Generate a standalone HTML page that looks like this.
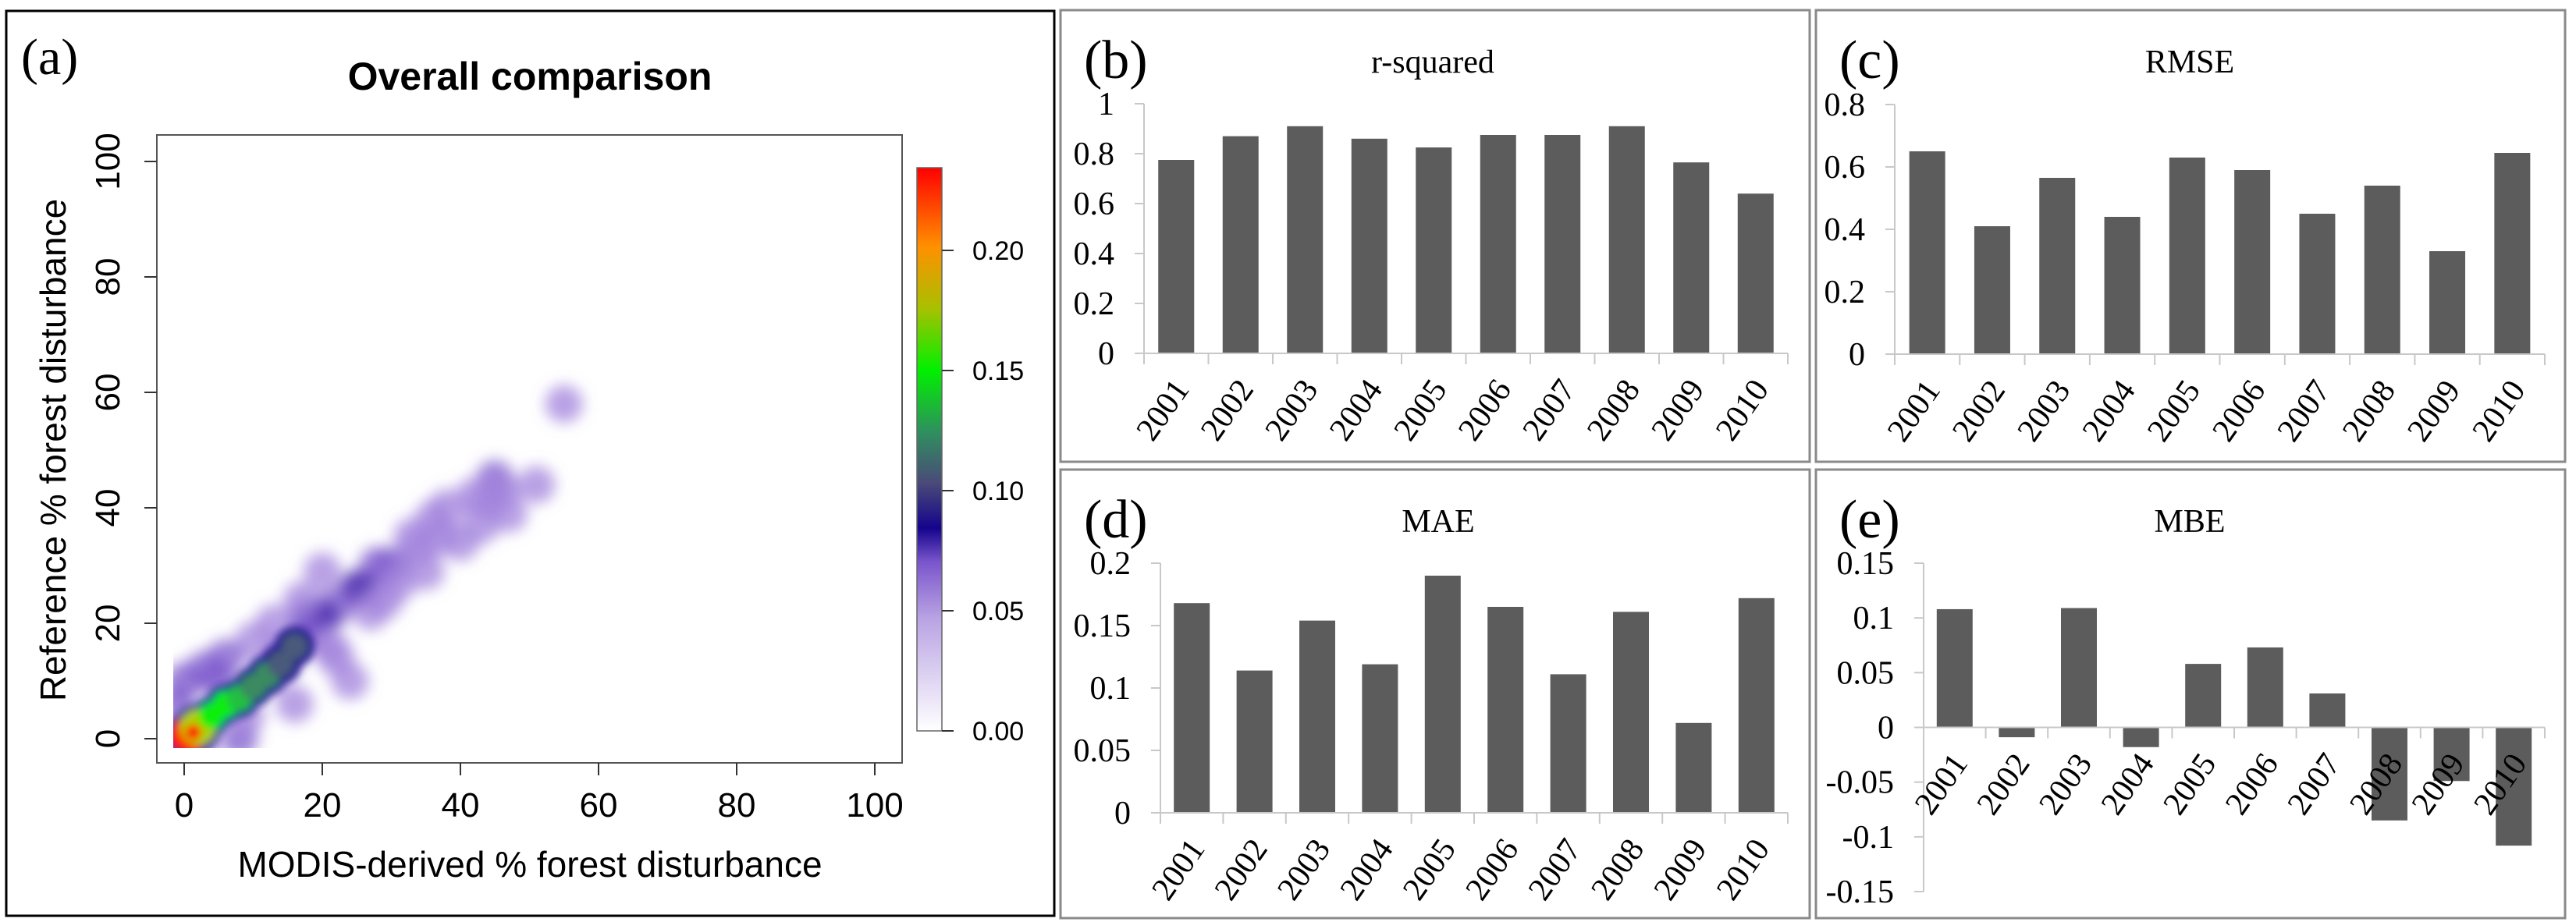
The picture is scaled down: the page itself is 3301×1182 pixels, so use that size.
<!DOCTYPE html>
<html><head><meta charset="utf-8"><style>
html,body{margin:0;padding:0;background:#fff;width:3301px;height:1182px;overflow:hidden}
svg{display:block}
.sans{font-family:"Liberation Sans",Arial,sans-serif}
.serif{font-family:"Liberation Serif","Times New Roman",serif}
</style></head><body>
<svg id="fig" width="3301" height="1182" viewBox="0 0 3301 1182" xmlns="http://www.w3.org/2000/svg">
<defs>
<filter id="blur" x="-20%" y="-20%" width="140%" height="140%"><feGaussianBlur stdDeviation="9"/></filter>
<filter id="blur2" x="-20%" y="-20%" width="140%" height="140%"><feGaussianBlur stdDeviation="5"/></filter>
<linearGradient id="cbar" x1="0" y1="1" x2="0" y2="0">
<stop offset="0" stop-color="#ffffff"/>
<stop offset="0.2" stop-color="#b9a3e3"/>
<stop offset="0.3" stop-color="#7a55cc"/>
<stop offset="0.36" stop-color="#14048c"/>
<stop offset="0.44" stop-color="#4a4a78"/>
<stop offset="0.53" stop-color="#2f8f5f"/>
<stop offset="0.64" stop-color="#00f000"/>
<stop offset="0.75" stop-color="#a8c000"/>
<stop offset="0.86" stop-color="#ff9000"/>
<stop offset="1" stop-color="#ff0000"/>
</linearGradient>
<clipPath id="dclip"><rect x="222" y="180" width="940" height="779"/></clipPath>
</defs>
<g id="panelA"></g>
<g id="bars"></g>
</svg>
<script>
// ---------- Panel (a) data ----------
const xTicksA = [0,20,40,60,80,100];
const yTicksA = [0,20,40,60,80,100];
const cbTicks = [0.00,0.05,0.10,0.15,0.20];
// density blobs: x (MODIS %), y (reference %), level (0 light .. 3 dark)
const blobX = [55,45,46,51,47,42,38,36,40,34,30,28,26,25,22,20,20,18,18,14,12,15,16,10,13,22,24,33,35,43,-1,3,5,0,8,27,31,37,9,6,2,17,21,29,44];
const blobY = [58,45,43,44,39,42,40,38,34,33,30,30,26,26,23,29,21,21,18,13,11,15,6,17,20,14,10,35,29,37,6,12,10,10,0,22,27,35,4,14,-1,24,16,24,41];
const blobL = [1,2,1,1,1,1,1,1,1,1,2,2,2,3,2,1,3,3,2,2,2,2,1,1,1,1,1,1,1,1,2,2,2,2,2,1,1,1,1,2,2,1,1,1,1];
// core (high-density) blobs
const coreX = [0.5,2,4,6,8,10,12,14,16];
const coreY = [0.5,2,4,6,7,9,11,13,16];
const coreV = [0.23,0.19,0.16,0.15,0.14,0.12,0.11,0.10,0.09];

// ---------- Bar panels data ----------
const years = ['2001','2002','2003','2004','2005','2006','2007','2008','2009','2010'];
const rsq  = [0.775,0.87,0.91,0.86,0.825,0.875,0.875,0.91,0.765,0.64];
const rmse = [0.65,0.41,0.565,0.44,0.63,0.59,0.45,0.54,0.33,0.645];
const mae  = [0.168,0.114,0.154,0.119,0.19,0.165,0.111,0.161,0.072,0.172];
const mbe  = [0.108,-0.009,0.109,-0.018,0.058,0.073,0.031,-0.085,-0.049,-0.108];
const ticksB = ['0','0.2','0.4','0.6','0.8','1'];
const ticksC = ['0','0.2','0.4','0.6','0.8'];
const ticksD = ['0','0.05','0.1','0.15','0.2'];
const ticksE = ['-0.15','-0.1','-0.05','0','0.05','0.1','0.15'];

const NS='http://www.w3.org/2000/svg';
function mk(parent,tag,attrs,text){const e=document.createElementNS(NS,tag);for(const k in attrs)e.setAttribute(k,attrs[k]);if(text!==undefined)e.textContent=text;parent.appendChild(e);return e;}

// ===== Panel A =====
const A=document.getElementById('panelA');
const ax=v=>236+v*8.85, ay=v=>947-v*7.4;
let e;
e=mk(A,'rect',{x:8,y:14,width:1343,height:1160,fill:'none',stroke:'#000','stroke-width':3});

e=mk(A,'text',{x:27,y:95,'font-size':66,class:'serif'},'(a)');

e=mk(A,'text',{x:679,y:115,'font-size':50,'font-weight':'bold','text-anchor':'middle',class:'sans'},'Overall comparison');

e=mk(A,'rect',{x:201,y:173,width:955,height:805,fill:'none',stroke:'#555','stroke-width':2});

// density
const dg=mk(A,'g',{'clip-path':'url(#dclip)'});

const g1=mk(dg,'g',{filter:'url(#blur)'});
const lc=['#c8b6ec','#a283dc','#7c58cc','#4b2aad'];
for(let i=0;i<blobX.length;i++){
  e=mk(g1,'circle',{cx:ax(blobX[i]),cy:ay(blobY[i]),r:24,fill:lc[blobL[i]],'fill-opacity':0.75});
  
}
const g2=mk(dg,'g',{filter:'url(#blur2)'});
const colFor=v=>v>=0.21?'#ff2000':v>=0.18?'#b0d000':v>=0.15?'#10ee10':v>=0.13?'#20c040':v>=0.11?'#3a8a60':'#4a5a7a';
for(let i=0;i<coreX.length;i++){
  e=mk(g2,'circle',{cx:ax(coreX[i]),cy:ay(coreY[i]),r:i<2?30:25,fill:'#1a0a8c'});
  
}
for(let i=0;i<coreX.length;i++){
  e=mk(g2,'circle',{cx:ax(coreX[i]),cy:ay(coreY[i]),r:i<2?23:17,fill:colFor(coreV[i])});
  
}
e=mk(g2,'circle',{cx:ax(coreX[0]+0.8),cy:ay(coreY[0]+0.6),r:10,fill:'#ff0000'});

// axes ticks
xTicksA.forEach(v=>{
  e=mk(A,'line',{x1:ax(v),x2:ax(v),y1:978,y2:994,stroke:'#333','stroke-width':2});
  
  e=mk(A,'text',{x:ax(v),y:1047,'font-size':44,'text-anchor':'middle',class:'sans'},String(v));
  
});
yTicksA.forEach(v=>{
  e=mk(A,'line',{x1:185,x2:201,y1:ay(v),y2:ay(v),stroke:'#333','stroke-width':2});
  
  e=mk(A,'text',{x:153,y:ay(v),'font-size':44,'text-anchor':'middle',class:'sans',transform:`rotate(-90 153 ${ay(v)})`},String(v));
  
});
e=mk(A,'text',{x:679,y:1124,'font-size':46,'text-anchor':'middle',class:'sans'},'MODIS-derived % forest disturbance');

e=mk(A,'text',{x:84,y:577,'font-size':46,'text-anchor':'middle',class:'sans',transform:'rotate(-90 84 577)'},'Reference % forest disturbance');

// colorbar
const cy=v=>937-v*(616/0.2);
e=mk(A,'rect',{x:1175,y:215,width:32,height:722,fill:'url(#cbar)',stroke:'#666','stroke-width':1.5});

cbTicks.forEach(v=>{
  e=mk(A,'line',{x1:1207,x2:1222,y1:cy(v),y2:cy(v),stroke:'#333','stroke-width':2});
  
  e=mk(A,'text',{x:1246,y:cy(v)+12,'font-size':34,class:'sans'},v.toFixed(2));
  
});

// ===== Bar panels =====
const B=document.getElementById('bars');
function panel(cfg){
  const g=mk(B,'g',{});
  
  e=mk(g,'rect',{x:cfg.bx,y:cfg.by,width:cfg.bw,height:cfg.bh,fill:'none',stroke:'#8a8a8a','stroke-width':3});
  
  e=mk(g,'text',{x:cfg.bx+30,y:cfg.by+87,'font-size':70,class:'serif'},'('+cfg.id+')');
  
  e=mk(g,'text',{x:cfg.tx,y:cfg.by+80,'font-size':42,'text-anchor':'middle',class:'serif'},cfg.title);
  
  const tv=cfg.ticks.map(Number);
  const vmin=tv[0],vmax=tv[tv.length-1];
  const y=v=>cfg.yb-(v-vmin)/(vmax-vmin)*(cfg.yb-cfg.yt);
  const n=cfg.vals.length, pitch=(cfg.x1-cfg.x0)/n;
  const x=i=>cfg.x0+pitch*(i+0.5);
  e=mk(g,'line',{x1:cfg.x0,x2:cfg.x0,y1:cfg.yt,y2:cfg.yb,stroke:'#c8c8c8','stroke-width':2});
  
  cfg.ticks.forEach((t,i)=>{
    e=mk(g,'line',{x1:cfg.x0-12,x2:cfg.x0,y1:y(tv[i]),y2:y(tv[i]),stroke:'#c8c8c8','stroke-width':2});
    
    e=mk(g,'text',{x:cfg.x0-38,y:y(tv[i])+14,'font-size':42,'text-anchor':'end',class:'serif'},t);
    
  });
  const y0=y(0);
  cfg.vals.forEach((v,i)=>{
    const top=Math.min(y(v),y0),h=Math.abs(y(v)-y0);
    e=mk(g,'rect',{x:x(i)-23,y:top,width:46,height:h,fill:'#5c5c5c'});
    
  });
  e=mk(g,'line',{x1:cfg.x0,x2:cfg.x1,y1:y0,y2:y0,stroke:'#c8c8c8','stroke-width':2});
  
  for(let i=0;i<=n;i++){
    e=mk(g,'line',{x1:cfg.x0+pitch*i,x2:cfg.x0+pitch*i,y1:y0,y2:y0+14,stroke:'#c8c8c8','stroke-width':2});
    
  }
  years.forEach((yr,i)=>{
    const lx=x(i)+18, ly=y0+46;
    e=mk(g,'text',{x:lx,y:ly,'font-size':42,'text-anchor':'end',class:'serif',transform:`rotate(-55 ${lx} ${ly})`},yr);
    
  });
}
panel({id:'b',title:'r-squared',vals:rsq,ticks:ticksB,bx:1359,by:13,bw:960,bh:579,tx:1836,x0:1466,x1:2291,yt:133,yb:453});
panel({id:'c',title:'RMSE',vals:rmse,ticks:ticksC,bx:2327,by:13,bw:960,bh:579,tx:2806,x0:2428,x1:3261,yt:134,yb:454});
panel({id:'d',title:'MAE',vals:mae,ticks:ticksD,bx:1359,by:602,bw:960,bh:575,tx:1843,x0:1487,x1:2291,yt:722,yb:1042});
panel({id:'e',title:'MBE',vals:mbe,ticks:ticksE,bx:2327,by:602,bw:960,bh:575,tx:2806,x0:2465,x1:3261,yt:722,yb:1143});
</script>
</body></html>
